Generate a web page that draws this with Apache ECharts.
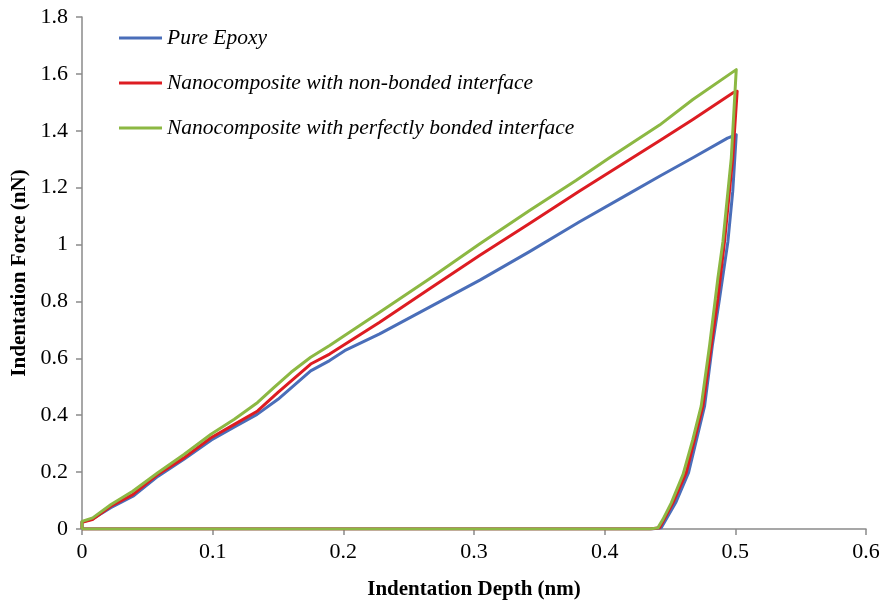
<!DOCTYPE html>
<html>
<head>
<meta charset="utf-8">
<script src="https://cdn.jsdelivr.net/npm/echarts@6/dist/echarts.min.js"></script>
<style>
  html, body { margin: 0; padding: 0; background: #fff; }
  #chart { width: 880px; height: 600px; }
</style>
</head>
<body>
<div id="chart"></div>
<script>
// Load–unload indentation curves: depth (nm) vs force (nN)
const seriesNames = [
  'Pure Epoxy',
  'Nanocomposite with non-bonded interface',
  'Nanocomposite with perfectly bonded interface'
];

const epoxyDepth = [0, 0, 0.008, 0.022, 0.039, 0.058, 0.078, 0.099, 0.117, 0.134, 0.150, 0.175, 0.1895, 0.201, 0.2278, 0.266, 0.3045, 0.3425, 0.3808, 0.419, 0.442, 0.4675, 0.494, 0.5007,
  0.498, 0.4943, 0.4879, 0.4824, 0.4765, 0.4642, 0.4543, 0.4433, 0.436, 0];
const epoxyForce = [0, 0.025, 0.035, 0.075, 0.115, 0.185, 0.245, 0.313, 0.360, 0.403, 0.456, 0.556, 0.592, 0.627, 0.686, 0.780, 0.875, 0.975, 1.080, 1.180, 1.240, 1.305, 1.374, 1.386,
  1.186, 1.010, 0.809, 0.645, 0.433, 0.198, 0.092, 0.004, 0, 0];

const nonBondedDepth = [0, 0, 0.008, 0.022, 0.0388, 0.058, 0.078, 0.0987, 0.1166, 0.1344, 0.150, 0.175, 0.1895, 0.2278, 0.266, 0.3045, 0.3425, 0.3808, 0.442, 0.4675, 0.498, 0.5014,
  0.498, 0.4917, 0.4866, 0.4816, 0.4752, 0.4624, 0.4522, 0.442, 0.435, 0];
const nonBondedForce = [0, 0.024, 0.033, 0.080, 0.121, 0.192, 0.250, 0.321, 0.368, 0.415, 0.480, 0.580, 0.615, 0.727, 0.845, 0.962, 1.074, 1.188, 1.365, 1.440, 1.533, 1.539,
  1.304, 1.010, 0.809, 0.645, 0.433, 0.198, 0.092, 0.004, 0, 0];

const bondedDepth = [0, 0, 0.0082, 0.0222, 0.0388, 0.058, 0.078, 0.0987, 0.1166, 0.1344, 0.147, 0.160, 0.175, 0.1895, 0.201, 0.2278, 0.266, 0.3045, 0.3425, 0.378, 0.4037, 0.442, 0.4675, 0.5007,
  0.4969, 0.4905, 0.4866, 0.4803, 0.4739, 0.4675, 0.460, 0.451, 0.4445, 0.4407, 0.4343, 0];
const bondedForce = [0, 0.027, 0.039, 0.086, 0.133, 0.198, 0.262, 0.333, 0.386, 0.445, 0.498, 0.551, 0.604, 0.645, 0.680, 0.762, 0.880, 1.003, 1.120, 1.225, 1.305, 1.420, 1.510, 1.615,
  1.304, 1.010, 0.880, 0.645, 0.433, 0.315, 0.192, 0.092, 0.033, 0.004, 0, 0];

const lineColors = ['#4A6EB9', '#DD1C22', '#8CB843'];

const pairs = (xs, ys) => xs.map((x, i) => [x, ys[i]]);
const curves = [
  pairs(epoxyDepth, epoxyForce),
  pairs(nonBondedDepth, nonBondedForce),
  pairs(bondedDepth, bondedForce)
];

const serif = '"Liberation Serif", "Times New Roman", serif';
const axisGrey = '#8a8a8a';

const chart = echarts.init(document.getElementById('chart'), null, { renderer: 'canvas' });
chart.setOption({
  animation: false,
  backgroundColor: '#ffffff',
  grid: { left: 82, right: 14, top: 17, bottom: 71, containLabel: false, outerBoundsMode: 'none' },
  legend: {
    orient: 'vertical',
    left: 114,
    top: 22,
    itemWidth: 43,
    itemHeight: 3,
    itemGap: 23,
    icon: 'rect',
    data: seriesNames,
    textStyle: {
      fontFamily: serif,
      fontStyle: 'italic',
      fontSize: 21.5,
      lineHeight: 20,
      color: '#000'
    }
  },
  xAxis: {
    type: 'value',
    min: 0,
    max: 0.6,
    interval: 0.1,
    name: 'Indentation Depth (nm)',
    nameLocation: 'middle',
    nameGap: 50,
    nameTextStyle: { fontFamily: serif, fontWeight: 'bold', fontSize: 21, color: '#000' },
    axisLine: { lineStyle: { color: axisGrey, width: 1.5 } },
    axisTick: { show: true, length: 6, lineStyle: { color: axisGrey, width: 1.5 } },
    axisLabel: { fontFamily: serif, fontSize: 22, color: '#000', margin: 12 },
    splitLine: { show: false }
  },
  yAxis: {
    type: 'value',
    min: 0,
    max: 1.8,
    interval: 0.2,
    name: 'Indentation Force (nN)',
    nameLocation: 'middle',
    nameGap: 47,
    nameTextStyle: { fontFamily: serif, fontWeight: 'bold', fontSize: 21, color: '#000' },
    axisLine: { show: true, lineStyle: { color: axisGrey, width: 1.5 } },
    axisTick: { show: true, length: 6, lineStyle: { color: axisGrey, width: 1.5 } },
    axisLabel: { fontFamily: serif, fontSize: 22, color: '#000', margin: 14 },
    splitLine: { show: false }
  },
  series: curves.map((data, i) => ({
    name: seriesNames[i],
    type: 'line',
    data: data,
    showSymbol: false,
    symbol: 'none',
    smooth: false,
    color: lineColors[i],
    lineStyle: { color: lineColors[i], width: 3, join: 'round' },
    z: 2 + i
  }))
});
</script>
</body>
</html>
